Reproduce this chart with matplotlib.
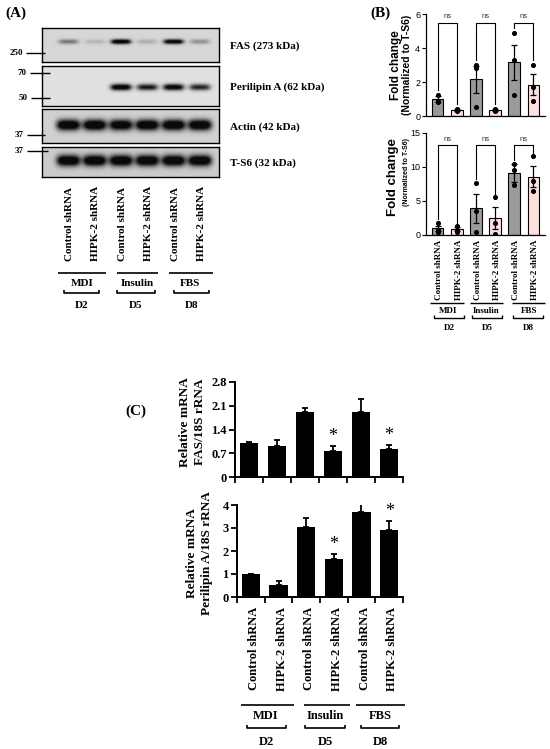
import numpy as np
import matplotlib
matplotlib.use('Agg')
import matplotlib.pyplot as plt
from matplotlib.transforms import Affine2D, blended_transform_factory
from matplotlib.lines import Line2D

# ---------------- data ----------------
lanes = ['Control shRNA', 'HIPK-2 shRNA', 'Control shRNA', 'HIPK-2 shRNA', 'Control shRNA', 'HIPK-2 shRNA']
groups = ['MDI', 'Insulin', 'FBS']
days = ['D2', 'D5', 'D8']

blot_names = ['FAS (273 kDa)', 'Perilipin A (62 kDa)', 'Actin (42 kDa)', 'T-S6 (32 kDa)']
fas_band = [0.35, 0.12, 0.95, 0.15, 0.9, 0.25]
plin_band = [0.0, 0.0, 0.9, 0.7, 0.85, 0.65]
actin_band = [1.0, 1.0, 0.95, 1.0, 1.0, 1.0]
ts6_band = [1.0, 1.0, 1.0, 1.0, 1.0, 1.0]
marker_labels = ['250', '70', '50', '37', '37']

# panel B (densitometry)
fas_fold_mean = [1.0, 0.35, 2.15, 0.35, 3.15, 1.85]
fas_fold_sem = [0.2, 0.05, 0.8, 0.06, 1.05, 0.6]
fas_fold_pts = [[1.25, 0.9, 0.85], [0.4, 0.35, 0.3], [3.0, 2.8, 0.55],
                [0.4, 0.35, 0.3], [4.9, 3.3, 1.25], [3.0, 1.7, 0.9]]
plin_fold_mean = [1.0, 0.85, 3.9, 2.5, 9.1, 8.6]
plin_fold_sem = [0.35, 0.3, 2.2, 1.6, 1.3, 1.6]
plin_fold_pts = [[1.8, 0.7, 0.5], [1.3, 0.8, 0.45], [7.7, 3.6, 0.4],
                 [5.6, 1.7, 0.2], [10.5, 9.5, 7.3], [11.6, 7.9, 6.4]]
ns_labels = ['ns', 'ns', 'ns']

# panel C (qPCR)
fas_mrna = [1.0, 0.9, 1.92, 0.77, 1.92, 0.82]
fas_mrna_err = [0.04, 0.19, 0.1, 0.15, 0.39, 0.13]
plin_mrna = [1.0, 0.53, 3.06, 1.66, 3.71, 2.92]
plin_mrna_err = [0.02, 0.15, 0.36, 0.22, 0.48, 0.39]
sig = ['', '', '', '*', '', '*']
fas_ticks = [0, 0.7, 1.4, 2.1, 2.8]
fas_ticklabels = ['0', '0.7', '1.4', '2.1', '2.8']
plin_ticks = [0, 1, 2, 3, 4]

# ---------------- figure ----------------
W, H = 550, 749
fig = plt.figure(figsize=(5.5, 7.49), dpi=100)
fig.patch.set_facecolor('white')
pix = Affine2D().scale(1 / W, -1 / H).translate(0, 1) + fig.transFigure

SERIF = 'Liberation Serif'
SANS = 'Liberation Sans'


def ax_px(x0, y0, x1, y1):
    return fig.add_axes([x0 / W, 1 - y1 / H, (x1 - x0) / W, (y1 - y0) / H])


def t(x, y, s, size, family=SERIF, weight='bold', ha='center', va='center',
      rot=0, color='black', tr=None):
    fig.text(x, y, s, transform=tr if tr is not None else pix, fontsize=size,
             family=family, weight=weight, ha=ha, va=va, rotation=rot, color=color)


def line(xs, ys, lw=1.0, color='black'):
    fig.add_artist(Line2D(xs, ys, transform=pix, color=color, lw=lw,
                          solid_capstyle='butt'))


def bracket(x0, x1, y, lw=1.2, h=3):
    line([x0, x0, x1, x1], [y - h, y, y, y - h], lw=lw)


def group_block(lines_x, label_x, y_line, y_lab, y_br, br_x, y_day, size, lw=1.2):
    for (a, b), lx, (c, d), g, dd in zip(lines_x, label_x, br_x, groups, days):
        line([a, b], [y_line, y_line], lw=lw)
        t(lx, y_lab, g, size)
        bracket(c, d, y_br, lw=lw)
        t((c + d) / 2, y_day, dd, size)


# ---------------- panel A: western blots ----------------
t(16, 13, '(A)', 11)
blot_boxes = [(28, 62), (66, 106), (109, 143), (147, 177)]
band_sets = [fas_band, plin_band, actin_band, ts6_band]
band_y = [0.40, 0.53, 0.47, 0.47]
band_h = [0.07, 0.08, 0.16, 0.18]
band_w = [0.38, 0.40, 0.45, 0.45]
bg_lvl = [0.84, 0.88, 0.82, 0.80]
xl = (-1.0, 5.72)
blot_axes = []
for (y0, y1), bands, by, bh, bw, bg, name in zip(blot_boxes, band_sets, band_y,
                                                 band_h, band_w, bg_lvl, blot_names):
    ax = ax_px(42, y0, 219, y1)
    xs = np.linspace(xl[0], xl[1], 400)
    ys = np.linspace(0, 1, 120)
    X, Y = np.meshgrid(xs, ys)
    dens = np.zeros_like(X)
    for k, inten in enumerate(bands):
        dens += inten * np.exp(-(np.abs(X - k) / bw) ** 4) * np.exp(-((Y - by) / bh) ** 2)
    dens = np.clip(dens * 1.4, 0, 1)
    img = bg - (bg - 0.04) * dens
    ax.imshow(img, cmap='gray', vmin=0, vmax=1, aspect='auto',
              extent=(xl[0], xl[1], 1, 0), interpolation='bilinear')
    ax.set_xlim(*xl)
    ax.set_ylim(1, 0)
    ax.set_xticks([])
    ax.set_yticks([])
    for s in ax.spines.values():
        s.set_linewidth(1.0)
    t(230, (y0 + y1) / 2 + 1, name, 8, ha='left')
    blot_axes.append(ax)

# molecular weight markers
mw_pos = [(53, 26, 45), (73, 30, 50), (98, 31, 50), (135, 27, 45), (151, 27, 48)]
for lab, (yy, a, b) in zip(marker_labels, mw_pos):
    t(a - 3, yy, lab, 6.5, ha='right')
    line([a, b], [yy, yy], lw=1.0)

trA = blended_transform_factory(blot_axes[0].transData, pix)
for i, lab in enumerate(lanes):
    t(i + 0.05, 261, lab, 8, ha='center', va='bottom', rot=90, tr=trA)
group_block([(58, 106), (117, 158), (169, 213)], [82, 137, 190], 273, 284, 293,
            [(64, 99), (117, 155), (174, 209)], 306, 8)

# ---------------- panel B: fold change ----------------
t(380, 13, '(B)', 11)
ctrl_col = '#9a9a9a'
kd_col = '#fde0de'
colors = [ctrl_col, kd_col] * 3


def fold_panel(ax, mean, sem, pts, ymax, ticks, ns_top, ns_y, pad):
    x = np.arange(len(mean))
    ax.bar(x, mean, width=0.62, color=colors, edgecolor='black', linewidth=0.8, zorder=2)
    ax.errorbar(x, mean, yerr=sem, fmt='none', ecolor='black', elinewidth=0.9,
                capsize=2.5, capthick=0.9, zorder=3)
    for i, p in enumerate(pts):
        ax.scatter([i] * len(p), p, s=7, color='black', zorder=4)
    for j, lab in enumerate(ns_labels):
        a, b = 2 * j, 2 * j + 1
        la = max(max(pts[a]), mean[a] + sem[a]) + pad
        lb = max(max(pts[b]), mean[b] + sem[b]) + pad
        ax.plot([a, a, b, b], [la, ns_top, ns_top, lb], color='black', lw=0.8, zorder=3,
                clip_on=False)
        ax.text((a + b) / 2, ns_y, lab, ha='center', va='center', fontsize=5.5,
                family=SANS, color='#333333')
    ax.set_xlim(-0.6, 5.6)
    ax.set_ylim(0, ymax)
    ax.set_yticks(ticks)
    ax.set_yticklabels([str(v) for v in ticks], family=SANS, fontsize=6.5)
    ax.tick_params(axis='y', length=3, width=0.8, pad=1.2)
    ax.set_xticks([])
    for s in ['top', 'right']:
        ax.spines[s].set_visible(False)
    for s in ['left', 'bottom']:
        ax.spines[s].set_linewidth(0.9)
    ax.patch.set_alpha(0)


axB1 = ax_px(426, 14, 545, 116)
fold_panel(axB1, fas_fold_mean, fas_fold_sem, fas_fold_pts, 6, [0, 2, 4, 6], 5.5, 5.85, 0.3)
t(396, 65, 'Fold change', 8.5, family=SANS, rot=90)
t(407, 65, '(Normalized to T-S6)', 7.5, family=SANS, rot=90)

axB2 = ax_px(426, 133, 545, 235)
fold_panel(axB2, plin_fold_mean, plin_fold_sem, plin_fold_pts, 15, [0, 5, 10, 15], 13.2, 14.1, 0.5)
t(393, 177, 'Fold change', 9.5, family=SANS, rot=90)
t(406, 172, '(Normalized to T-S6)', 5, family=SANS, rot=90)

trB = blended_transform_factory(axB2.transData, pix)
for i, lab in enumerate(lanes):
    t(i + 0.1, 240, lab, 6.5, ha='center', va='top', rot=90, tr=trB)
group_block([(430, 464), (470, 503), (512, 545)], [448, 486, 529], 303, 311, 318,
            [(434, 464), (472, 502), (513, 543)], 328, 6.5, lw=1.0)

# ---------------- panel C: qPCR ----------------
t(136, 411, '(C)', 11)


def mrna_panel(ax, vals, errs, ymax, ticks, ticklabels):
    x = np.arange(len(vals))
    ax.bar(x, vals, width=0.66, color='black', zorder=2)
    ax.errorbar(x, vals, yerr=[np.zeros(len(errs)), errs], fmt='none', ecolor='black',
                elinewidth=1.3, capsize=2.5, capthick=1.3, zorder=3)
    for i, s in enumerate(sig):
        if s:
            ax.text(i, vals[i] + errs[i] + ymax * 0.005, s, ha='center', va='bottom',
                    fontsize=13, family=SERIF)
    ax.set_xlim(-0.5, 5.5)
    ax.set_ylim(0, ymax)
    ax.set_yticks(ticks)
    ax.set_yticklabels(ticklabels, family=SERIF, weight='bold', fontsize=9)
    ax.set_xticks(np.arange(-0.5, 6, 1))
    ax.set_xticklabels([])
    ax.tick_params(axis='both', length=4, width=1.3, pad=2)
    for s in ['top', 'right']:
        ax.spines[s].set_visible(False)
    for s in ['left', 'bottom']:
        ax.spines[s].set_linewidth(1.4)
    ax.patch.set_alpha(0)


axC1 = ax_px(235, 382, 403, 477)
mrna_panel(axC1, fas_mrna, fas_mrna_err, 2.8, fas_ticks, fas_ticklabels)
t(185, 422, 'Relative mRNA', 9.5, rot=90)
t(200, 422, 'FAS/18S rRNA', 9.5, rot=90)

axC2 = ax_px(237, 505, 403, 597)
mrna_panel(axC2, plin_mrna, plin_mrna_err, 4, plin_ticks, [str(v) for v in plin_ticks])
t(192, 553, 'Relative mRNA', 9.5, rot=90)
t(207, 553, 'Perilipin A/18S rRNA', 9.5, rot=90)

trC = blended_transform_factory(axC2.transData, pix)
for i, lab in enumerate(lanes):
    t(i + 0.12, 607, lab, 9, ha='center', va='top', rot=90, tr=trC)
group_block([(241, 294), (304, 350), (356, 405)], [266, 325, 380], 705, 716, 728,
            [(247, 286), (305, 345), (361, 399)], 742, 9)

fig.savefig('out.png', dpi=100, facecolor='white')
